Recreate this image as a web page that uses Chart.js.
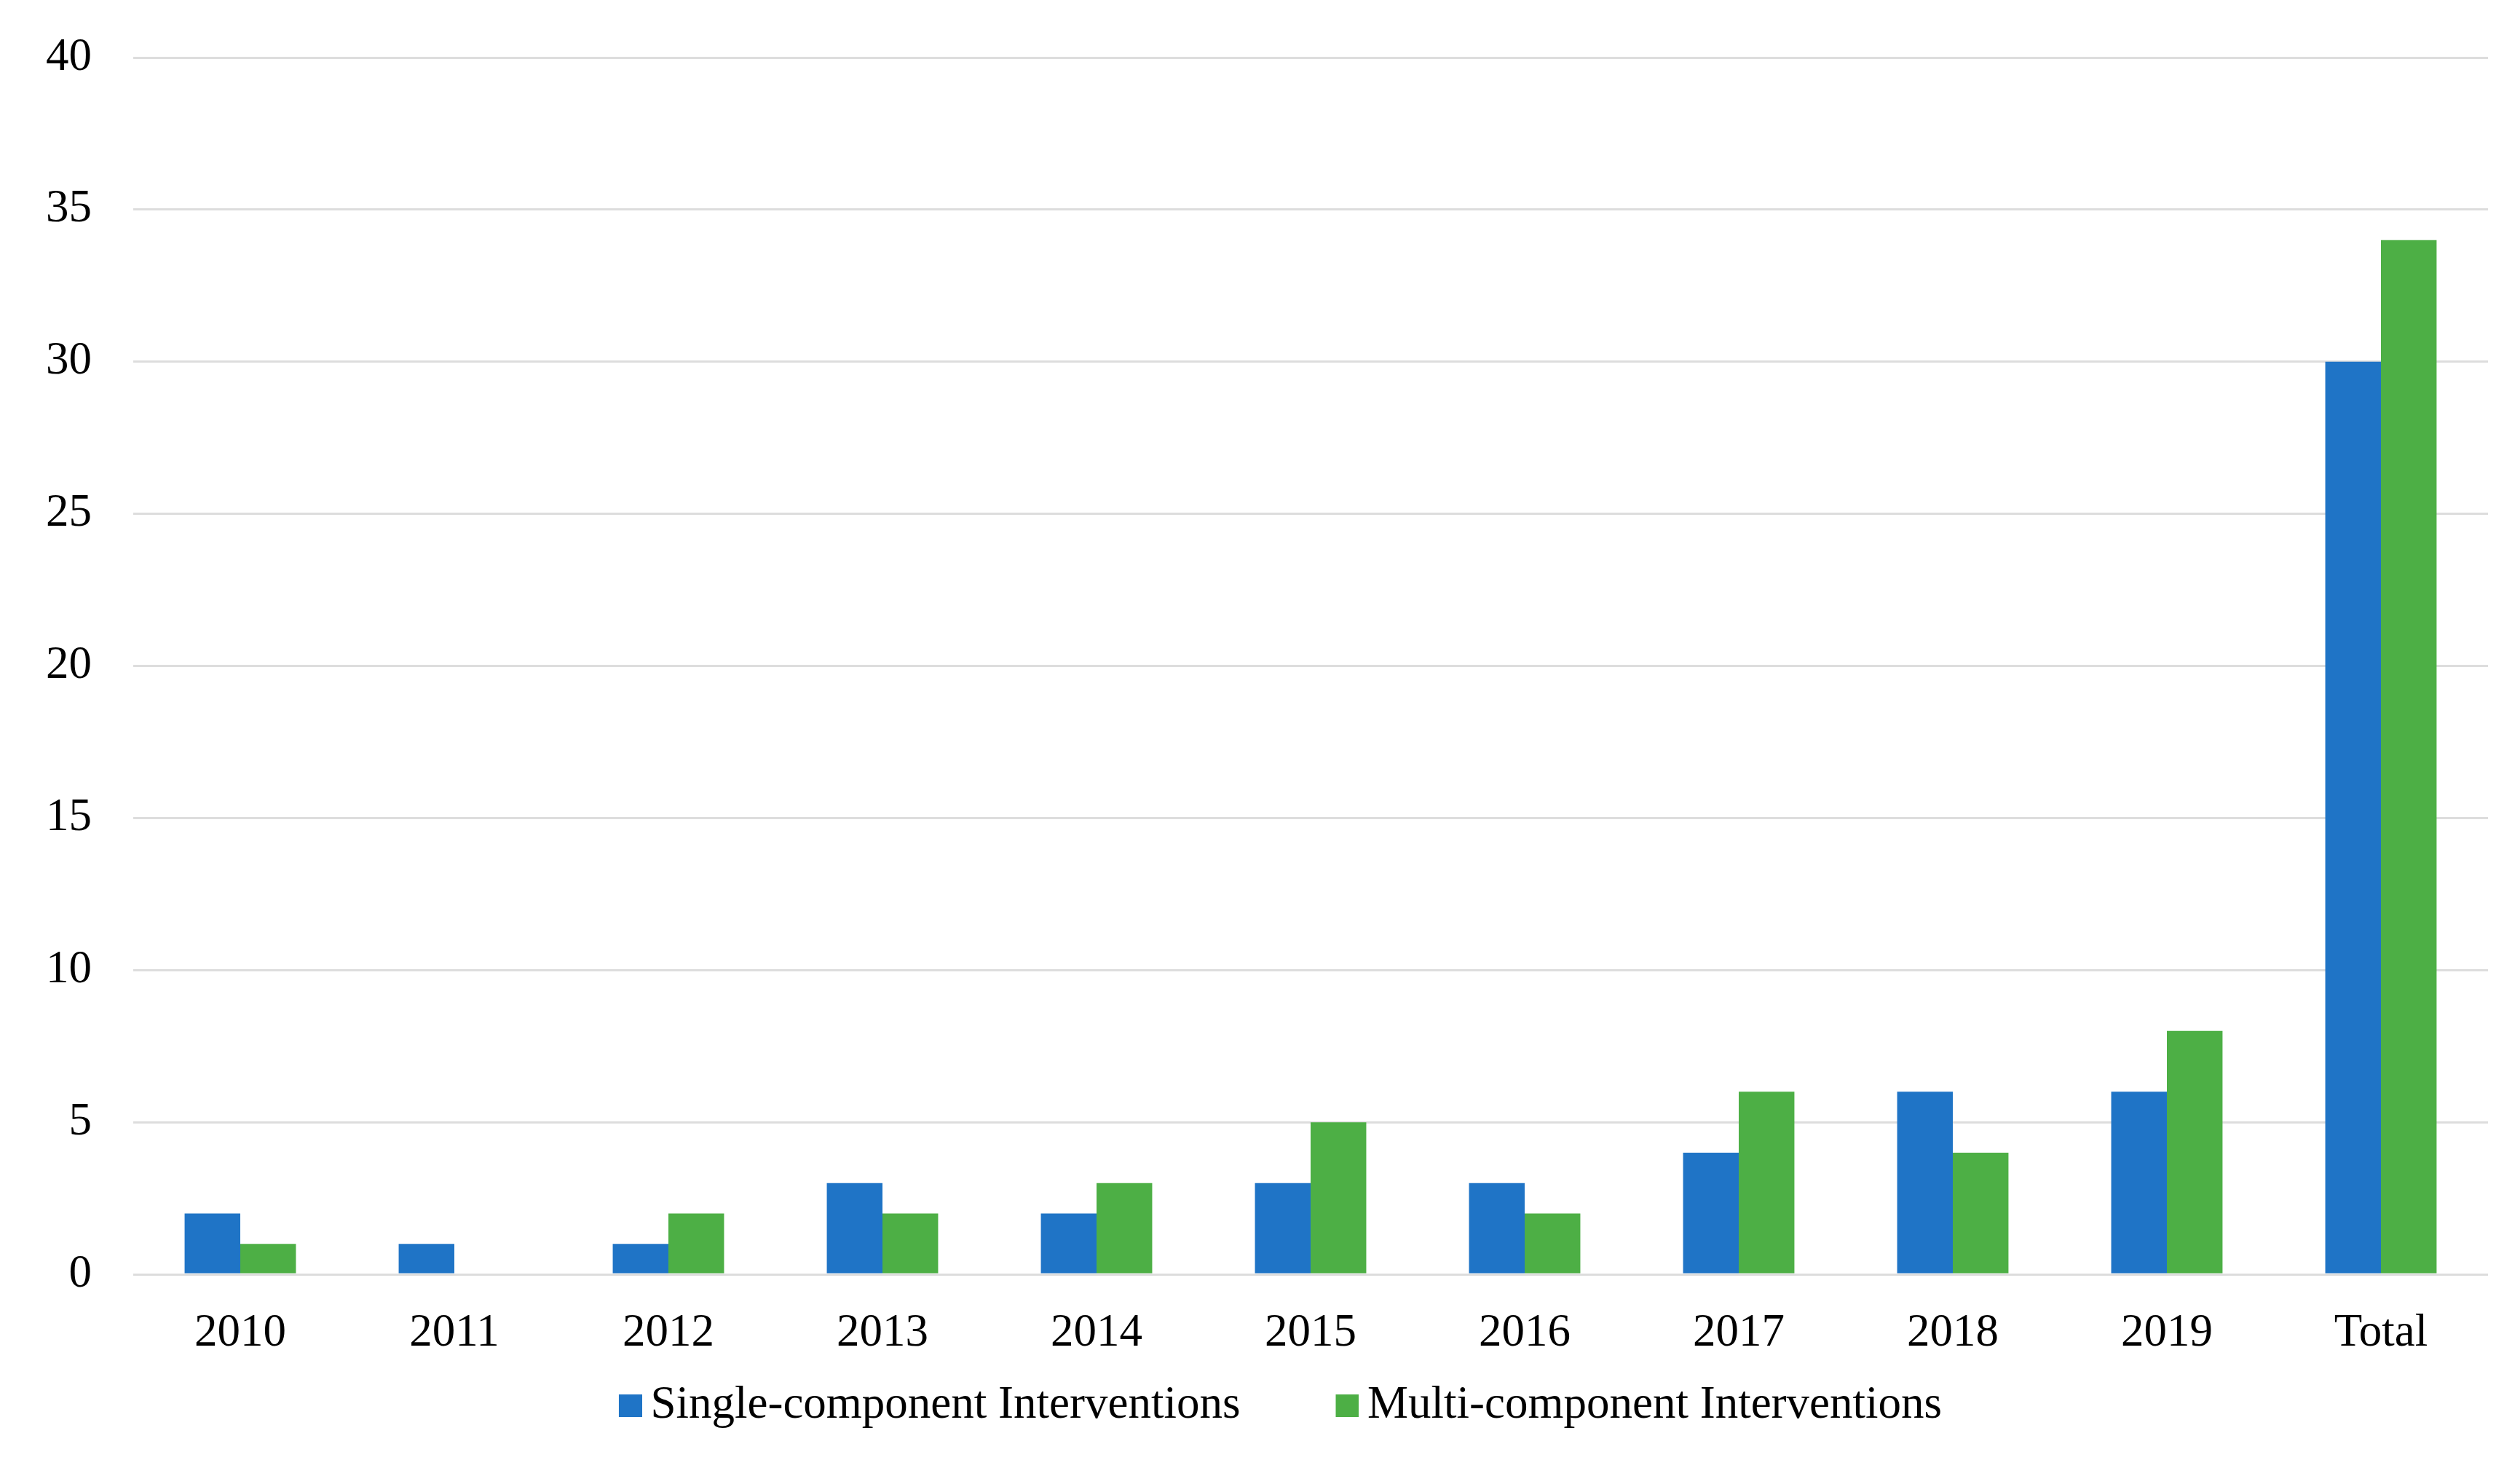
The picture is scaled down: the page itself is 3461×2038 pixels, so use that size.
<!DOCTYPE html>
<html>
<head>
<meta charset="utf-8">
<script src="https://cdn.jsdelivr.net/npm/chart.js@4/dist/chart.umd.min.js"></script>
<style>
  html, body { margin: 0; padding: 0; background: #fff; }
  #wrap { width: 3461px; height: 2038px; position: relative; }
</style>
</head>
<body>
<div id="wrap"><canvas id="chart"></canvas></div>
<script>
// Chart data
const years = ["2010", "2011", "2012", "2013", "2014", "2015", "2016", "2017", "2018", "2019", "Total"];
const singleComponent = [2, 1, 1, 3, 2, 3, 3, 4, 6, 6, 30];
const multiComponent = [1, 0, 2, 2, 3, 5, 2, 6, 4, 8, 34];
const yTicks = [0, 5, 10, 15, 20, 25, 30, 35, 40];

const BLUE = "#1F74C6";
const GREEN = "#4DAF45";
const FONT = "'Liberation Serif', 'Times New Roman', serif";

// Legend swatches: a small square at the right end of a transparent canvas,
// so the box sits close to its text like in the original
const swatchSpace = 106;
function makeSwatch(color) {
  const c = document.createElement("canvas");
  c.width = swatchSpace + 40;
  c.height = 31;
  const g = c.getContext("2d");
  g.fillStyle = color;
  g.fillRect(c.width - 32, 0, 32, 31);
  return c;
}
const swatches = [makeSwatch(BLUE), makeSwatch(GREEN)];

const ctx = document.getElementById("chart").getContext("2d");
new Chart(ctx, {
  type: "bar",
  data: {
    labels: years,
    datasets: [
      {
        label: "Single-component Interventions",
        data: singleComponent,
        backgroundColor: BLUE,
        categoryPercentage: 0.52,
        barPercentage: 1.0,
      },
      {
        label: "Multi-component Interventions",
        data: multiComponent,
        backgroundColor: GREEN,
        categoryPercentage: 0.52,
        barPercentage: 1.0,
      },
    ],
  },
  options: {
    responsive: true,
    maintainAspectRatio: false,
    animation: false,
    layout: {
      padding: { left: 6, right: 44, top: 79, bottom: 66 },
    },
    plugins: {
      tooltip: { enabled: false },
      legend: {
        position: "bottom",
        labels: {
          usePointStyle: true,
          pointStyleWidth: swatchSpace,
          padding: 37,
          color: "#000",
          font: { family: FONT, size: 63 },
          generateLabels: function (chart) {
            const items = Chart.defaults.plugins.legend.labels.generateLabels(chart);
            items.forEach((item, i) => {
              item.pointStyle = swatches[i];
            });
            return items;
          },
        },
      },
    },
    scales: {
      x: {
        afterFit: function (scale) {
          scale.height = 112;
        },
        grid: { display: false },
        border: { display: false },
        ticks: {
          color: "#000",
          padding: 36,
          font: { family: FONT, size: 63 },
        },
      },
      y: {
        min: 0,
        max: 40,
        afterFit: function (scale) {
          scale.width = 177;
        },
        afterBuildTicks: function (scale) {
          scale.ticks = yTicks.map((v) => ({ value: v }));
        },
        grid: {
          color: "#dddddd",
          lineWidth: 3,
          drawTicks: true,
          tickLength: 57,
          tickColor: "rgba(0,0,0,0)",
        },
        border: { display: false },
        ticks: {
          color: "#000",
          padding: 0,
          font: { family: FONT, size: 63 },
        },
      },
    },
  },
});
</script>
</body>
</html>
